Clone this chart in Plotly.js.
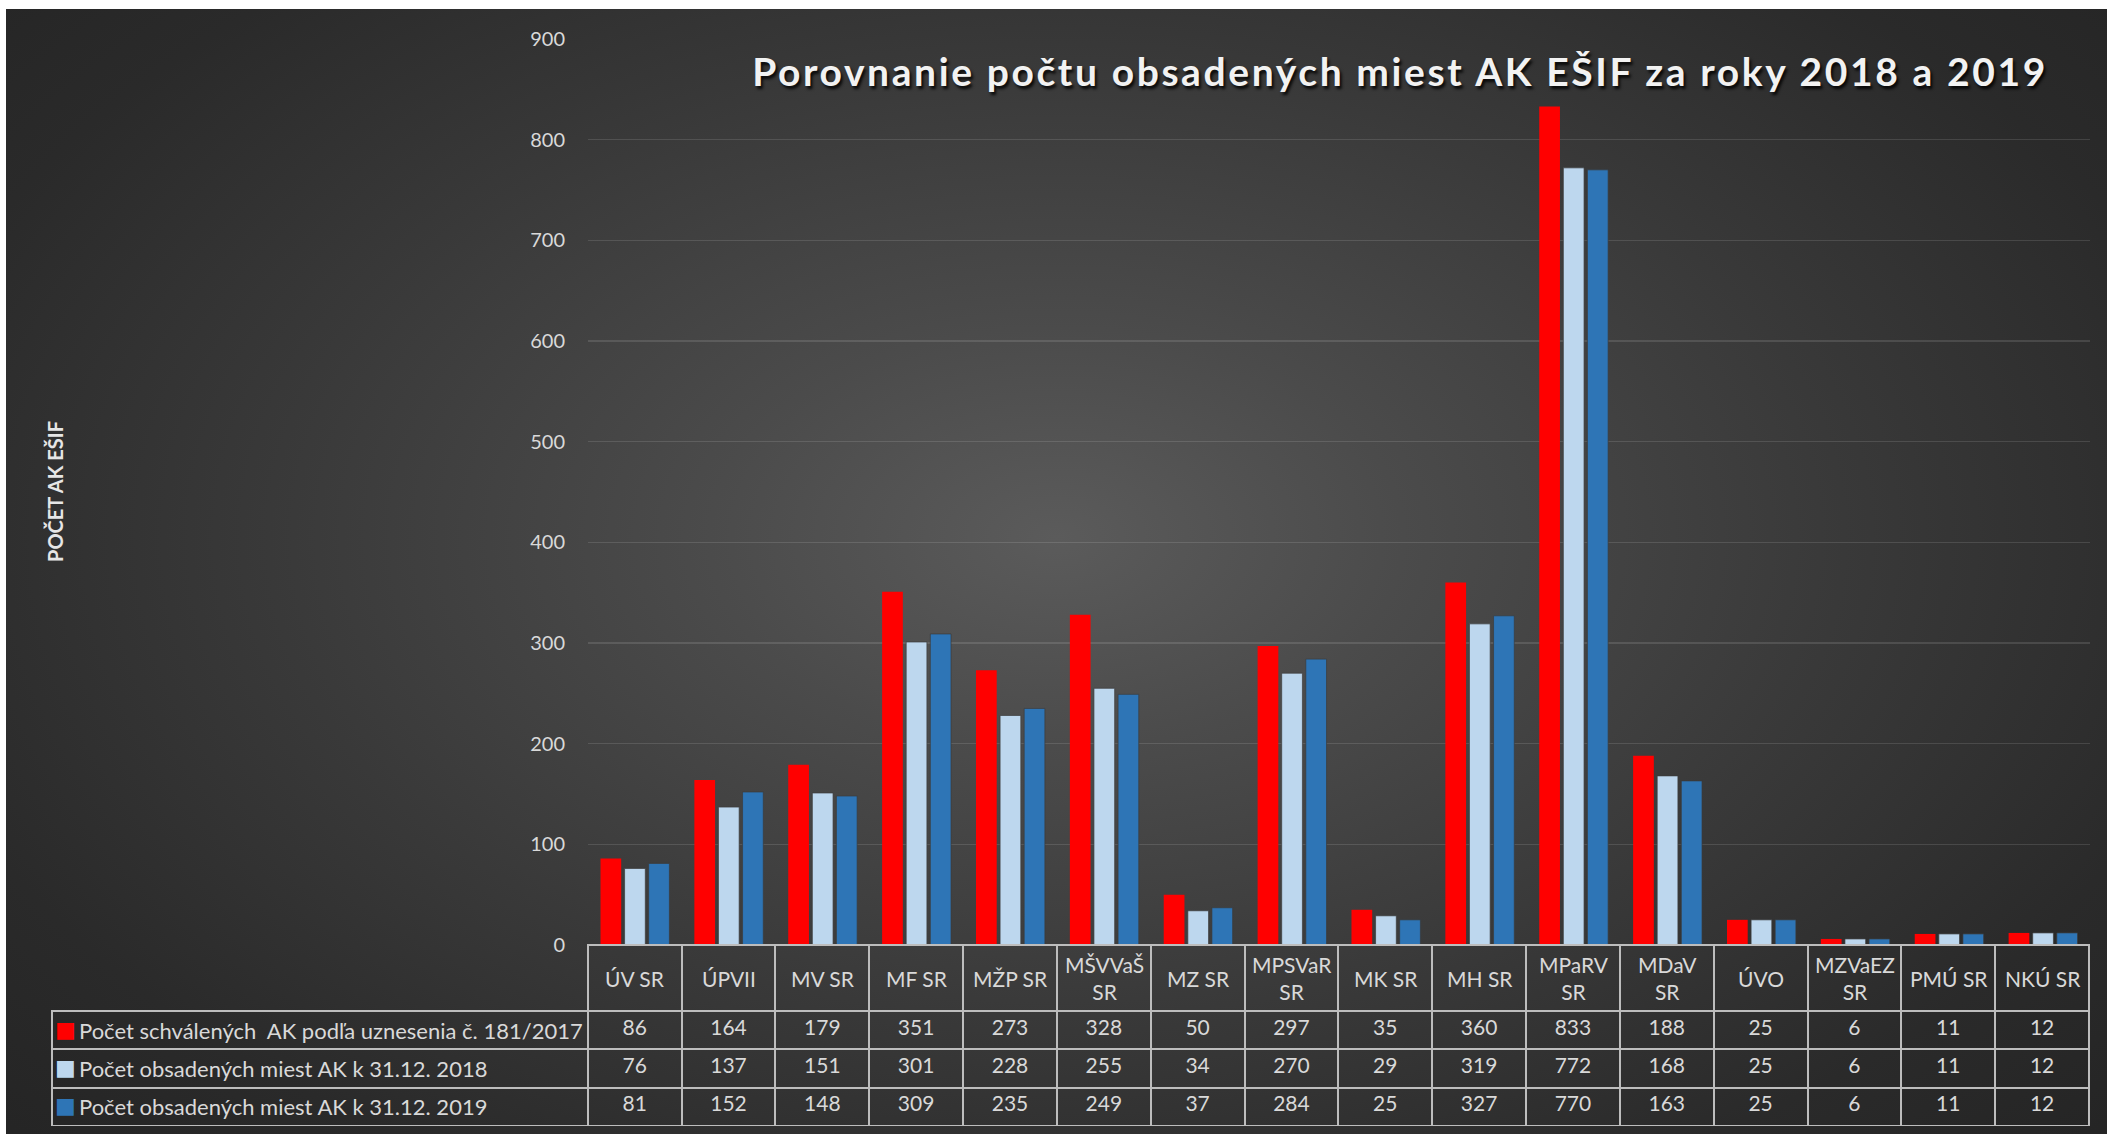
<!DOCTYPE html>
<html>
<head>
<meta charset="utf-8">
<script src="https://cdn.plot.ly/plotly-3.0.1.min.js"></script>
<style>
  html, body { margin: 0; padding: 0; background: #ffffff; overflow: hidden; }
  #bg { position: absolute; left: 6px; top: 9px; width: 2101px; height: 1125px;
        background: radial-gradient(ellipse 75% 85% at 50% 47%, #5b5b5b 0%, #4b4b4b 22%, #393939 50%, #2a2a2a 75%, #222222 100%); }
  #chart { position: absolute; left: 0; top: 0; width: 2107px; height: 1134px; }
  #chart .gtitle { letter-spacing: 2.6px; }
</style>
</head>
<body>
<div id="bg"></div>
<div id="chart"></div>
<script>
// ---- data ----
const categories = ['ÚV SR', 'ÚPVII', 'MV SR', 'MF SR', 'MŽP SR', 'MŠVVaŠ<br>SR', 'MZ SR', 'MPSVaR<br>SR',
                    'MK SR', 'MH SR', 'MPaRV<br>SR', 'MDaV<br>SR', 'ÚVO', 'MZVaEZ<br>SR', 'PMÚ SR', 'NKÚ SR'];
const seriesNames = ['Počet schválených  AK podľa uznesenia č. 181/2017',
                     'Počet obsadených miest AK k 31.12. 2018',
                     'Počet obsadených miest AK k 31.12. 2019'];
const approved = [86, 164, 179, 351, 273, 328, 50, 297, 35, 360, 833, 188, 25, 6, 11, 12];
const filled2018 = [76, 137, 151, 301, 228, 255, 34, 270, 29, 319, 772, 168, 25, 6, 11, 12];
const filled2019 = [81, 152, 148, 309, 235, 249, 37, 284, 25, 327, 770, 163, 25, 6, 11, 12];
const seriesColors = ['#FF0000', '#BDD7EE', '#2E75B6'];
const titleText = 'Porovnanie počtu obsadených miest AK EŠIF za roky 2018 a 2019';
const yTitle = 'POČET AK EŠIF';

// ---- layout constants (px) ----
const W = 2107, H = 1134;
const plotL = 588, plotR = 2090, plotTop = 39, plotBottom = 945;
const tableL = 52, tableBottom = 1126;
const headerH = 66, rowH = 38.3;
const cellFont = 21;

const seriesValues = [approved, filled2018, filled2019];
const fontFam = 'Lato, "Open Sans", sans-serif';

const bars = seriesValues.map((vals, i) => ({
  type: 'bar',
  name: seriesNames[i],
  x: categories,
  y: vals,
  marker: { color: seriesColors[i], line: { width: i === 0 ? 0 : 1, color: 'rgba(60,60,60,0.7)' } },
  showlegend: false,
  hoverinfo: 'x+y'
}));

// data table: first column holds the series keys (drawn as annotations below)
const tableValues = [seriesNames.map(() => '')].concat(categories.map((c, j) => seriesValues.map(v => v[j])));
const nCat = categories.length;
const catW = (plotR - plotL) / nCat;
const lineColor = '#bdbdbd';

const table = {
  type: 'table',
  domain: { x: [tableL / W, plotR / W], y: [(H - tableBottom) / H, (H - plotBottom) / H] },
  columnwidth: [plotL - tableL].concat(categories.map(() => catW)),
  header: {
    values: [''].concat(categories.map(() => '')),
    height: headerH,
    align: 'center',
    fill: { color: 'rgba(0,0,0,0)' },
    line: { color: ['rgba(0,0,0,0)'].concat(categories.map(() => lineColor)), width: 2 },
    font: { family: fontFam, size: cellFont, color: '#d9d9d9' }
  },
  cells: {
    values: tableValues,
    height: rowH,
    align: ['left'].concat(categories.map(() => 'center')),
    fill: { color: 'rgba(0,0,0,0)' },
    line: { color: lineColor, width: 2 },
    font: { family: fontFam, size: cellFont, color: '#d9d9d9' }
  }
};

// category labels in the header row, vertically centred
const catAnnotations = categories.map(c => ({
  text: c, x: c, xref: 'x',
  y: (H - 978) / H, yref: 'paper', yanchor: 'middle', xanchor: 'center',
  showarrow: false,
  font: { family: fontFam, size: cellFont, color: '#d9d9d9' }
}));

// series key + name in the first table column
const keyAnnotations = [];
seriesNames.forEach((n, i) => {
  const yc = 1 - (plotBottom + headerH + rowH * (i + 0.5)) / H;
  keyAnnotations.push({
    text: '■', xref: 'paper', yref: 'paper', x: 53 / W, y: yc + 1 / H,
    xanchor: 'left', yanchor: 'middle', showarrow: false,
    font: { family: 'DejaVu Sans', size: 22, color: seriesColors[i] }
  });
  keyAnnotations.push({
    text: n.replace(/  /g, '\u00a0 '), xref: 'paper', yref: 'paper', x: 77 / W, y: yc,
    xanchor: 'left', yanchor: 'middle', showarrow: false,
    font: { family: fontFam, size: 22, color: '#d9d9d9' }
  });
});

const layout = {
  width: W, height: H, autosize: false,
  margin: { l: 0, r: 0, t: 0, b: 0, pad: 0 },
  paper_bgcolor: 'rgba(0,0,0,0)',
  plot_bgcolor: 'rgba(0,0,0,0)',
  barmode: 'group',
  bargap: 0.23,
  bargroupgap: 0.14,
  title: {
    text: titleText,
    x: 1400 / W, xanchor: 'center', xref: 'paper',
    y: 1 - 72 / H, yanchor: 'middle', yref: 'paper',
    font: { family: fontFam, size: 39, weight: 'bold', color: '#f2f2f2', shadow: '2px 3px 3px rgba(0,0,0,0.85)' }
  },
  xaxis: {
    domain: [plotL / W, plotR / W],
    type: 'category',
    showticklabels: false,
    showgrid: false, zeroline: false, showline: false, ticks: ''
  },
  yaxis: {
    domain: [(H - plotBottom) / H, (H - plotTop) / H],
    range: [0, 900],
    dtick: 100,
    tick0: 0,
    showgrid: true,
    gridcolor: 'rgba(255,255,255,0.12)',
    gridwidth: 1.5,
    zeroline: false,
    showline: false,
    ticks: '',
    ticklabelstandoff: 22,
    tickfont: { family: fontFam, size: 20, color: '#d9d9d9' }
  },
  annotations: [{
    text: yTitle, textangle: -90,
    xref: 'paper', yref: 'paper',
    x: 55 / W, y: 1 - 492 / H, xanchor: 'center', yanchor: 'middle',
    showarrow: false,
    font: { family: fontFam, size: 20, weight: 'bold', color: '#e6e6e6' }
  }].concat(catAnnotations, keyAnnotations),
  shapes: [{
    type: 'line', xref: 'paper', yref: 'paper',
    x0: plotL / W, x1: plotR / W, y0: (H - plotBottom) / H, y1: (H - plotBottom) / H,
    line: { color: lineColor, width: 2 }
  }]
};

Plotly.newPlot('chart', bars.concat([table]), layout, { displayModeBar: false, staticPlot: true });
</script>
</body>
</html>
